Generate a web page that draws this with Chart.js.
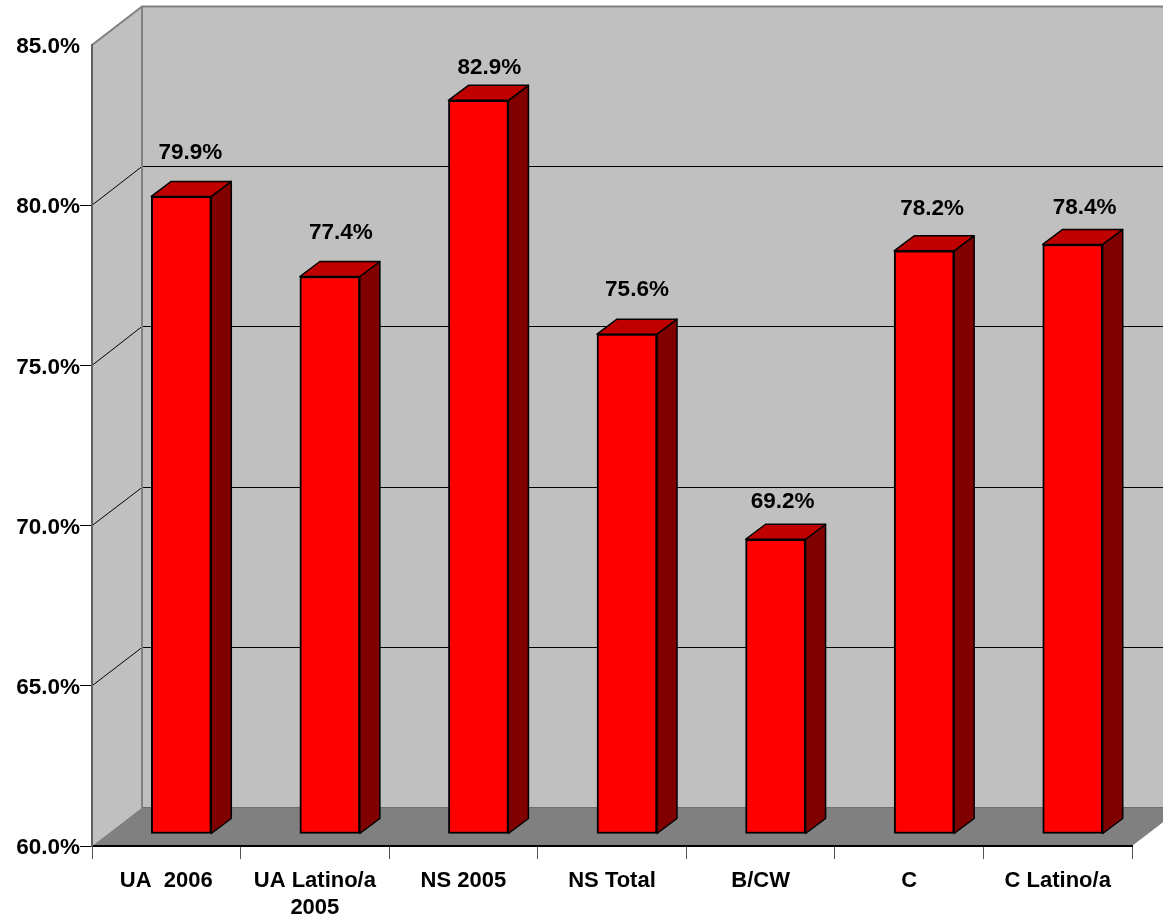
<!DOCTYPE html>
<html>
<head>
<meta charset="utf-8">
<title>Chart</title>
<script src="https://cdn.jsdelivr.net/npm/chart.js@4"></script>
<style>
  html, body { margin: 0; padding: 0; background: #fff; overflow: hidden; }
  canvas { display: block; }
</style>
</head>
<body>
<canvas id="chart" width="1163" height="917"></canvas>
<script>
// data
const categories = ['UA  2006', ['UA Latino/a', '2005'], 'NS 2005', 'NS Total', 'B/CW', 'C', 'C Latino/a'];
const values = [79.9, 77.4, 82.9, 75.6, 69.2, 78.2, 78.4];
const yTicks = [60, 65, 70, 75, 80, 85];

// 3D look
const wallDepth = { x: 50, y: -38.5 };
const barShift = { x: 15, y: -12 };
const barDepth = { x: 20, y: -15 };
const labelLift = [44, 44, 32, 44, 37, 42, 37];
const labelSlide = [9, 11, 11, 10, 7, 8, 12];

const poly = (ctx, pts, fill, stroke, width) => {
  ctx.beginPath();
  pts.forEach((p, i) => (i ? ctx.lineTo(p[0], p[1]) : ctx.moveTo(p[0], p[1])));
  ctx.closePath();
  ctx.fillStyle = fill;
  ctx.fill();
  if (stroke) {
    ctx.strokeStyle = stroke;
    ctx.lineWidth = width;
    ctx.lineJoin = 'round';
    ctx.stroke();
  }
};

// side wall, back wall, floor and gridlines
const walls = {
  id: 'walls',
  beforeDraw(chart) {
    const { ctx, chartArea: a, scales } = chart;
    const dx = wallDepth.x, dy = wallDepth.y;
    const top = scales.y.getPixelForValue(85), bot = scales.y.getPixelForValue(60);
    ctx.save();
    poly(ctx, [[a.left + dx, top + dy], [a.right + dx, top + dy], [a.right + dx, bot + dy], [a.left + dx, bot + dy]], '#c0c0c0');
    poly(ctx, [[a.left, top], [a.left + dx, top + dy], [a.left + dx, bot + dy], [a.left, bot]], '#c0c0c0');

    // gridlines run up the side wall, then along the back
    ctx.strokeStyle = '#000';
    ctx.lineWidth = 1;
    yTicks.slice(1, -1).forEach((t) => {
      const y = scales.y.getPixelForValue(t);
      ctx.beginPath();
      ctx.moveTo(a.left, y);
      ctx.lineTo(a.left + dx, Math.floor(y + dy) + 0.5);
      ctx.lineTo(a.right + dx, Math.floor(y + dy) + 0.5);
      ctx.stroke();
    });

    // wall edges
    ctx.strokeStyle = '#808080';
    ctx.lineWidth = 2;
    ctx.beginPath();
    ctx.moveTo(a.left, top);
    ctx.lineTo(a.left + dx, top + dy);
    ctx.lineTo(a.right + dx, top + dy);
    ctx.moveTo(a.left + dx, top + dy);
    ctx.lineTo(a.left + dx, bot + dy);
    ctx.stroke();

    poly(ctx, [[a.left, bot], [a.left + dx, bot + dy], [a.right + dx, bot + dy], [a.right, bot]], '#808080');
    ctx.strokeStyle = '#6e6e6e';
    ctx.lineWidth = 1;
    ctx.beginPath();
    ctx.moveTo(a.left + dx, bot + dy);
    ctx.lineTo(a.right + dx, bot + dy);
    ctx.stroke();
    ctx.restore();
  }
};

// native bars get moved into the floor, side and top faces go behind them
const bars3d = {
  id: 'bars3d',
  beforeDatasetsDraw(chart) {
    const { ctx } = chart;
    ctx.save();
    ctx.translate(barShift.x, barShift.y);
    chart.getDatasetMeta(0).data.forEach((bar) => {
      const p = bar.getProps(['x', 'y', 'base', 'width'], true);
      const l = p.x - p.width / 2, r = p.x + p.width / 2;
      const dx = barDepth.x, dy = barDepth.y;
      poly(ctx, [[r, p.y], [r + dx, p.y + dy], [r + dx, p.base + dy], [r, p.base]], '#800000', '#000', 1.5);
      poly(ctx, [[l, p.y], [l + dx, p.y + dy], [r + dx, p.y + dy], [r, p.y]], '#c00000', '#000', 1.5);
    });
  },
  afterDatasetsDraw(chart) {
    const { ctx } = chart;
    ctx.restore();
    ctx.save();
    ctx.font = 'bold 22.5px "Liberation Sans", Arial, sans-serif';
    ctx.fillStyle = '#000';
    ctx.textAlign = 'center';
    ctx.textBaseline = 'middle';
    chart.getDatasetMeta(0).data.forEach((bar, i) => {
      const p = bar.getProps(['x', 'y'], true);
      ctx.fillText(values[i].toFixed(1) + '%', p.x + barShift.x + labelSlide[i], p.y + barShift.y - labelLift[i]);
    });
    ctx.restore();
  }
};

const fontFamily = '"Liberation Sans", Arial, sans-serif';

new Chart(document.getElementById('chart').getContext('2d'), {
  type: 'bar',
  data: {
    labels: categories,
    datasets: [{
      data: values,
      base: 60,
      backgroundColor: '#ff0000',
      borderColor: '#000',
      borderWidth: 2,
      borderSkipped: false,
      barThickness: 60,
      clip: false
    }]
  },
  options: {
    responsive: false,
    animation: false,
    devicePixelRatio: 1,
    layout: { padding: { top: 45, right: 31, left: 0, bottom: 0 } },
    plugins: { legend: { display: false }, tooltip: { enabled: false } },
    scales: {
      x: {
        afterFit: (s) => { s.height = 71; },
        grid: { drawOnChartArea: false, tickLength: 13, tickColor: '#555' },
        border: { color: '#000', width: 2 },
        ticks: {
          color: '#000',
          font: { family: fontFamily, size: 22, weight: 'bold', lineHeight: 1.22 },
          padding: 9,
          autoSkip: false,
          maxRotation: 0
        }
      },
      y: {
        min: 60,
        max: 85,
        afterFit: (s) => { s.width = 92; },
        afterBuildTicks: (s) => { s.ticks = yTicks.map((value) => ({ value })); },
        grid: {
          drawOnChartArea: false,
          tickLength: 12,
          tickColor: (c) => (c.tick && c.tick.value === 85 ? 'transparent' : '#000')
        },
        border: { color: '#606060', width: 2 },
        ticks: {
          color: '#000',
          font: { family: fontFamily, size: 22.5, weight: 'bold', lineHeight: 1.2 },
          padding: 0,
          labelOffset: 2,
          callback: (v) => Number(v).toFixed(1) + '%'
        }
      }
    }
  },
  plugins: [walls, bars3d]
});
</script>
</body>
</html>
